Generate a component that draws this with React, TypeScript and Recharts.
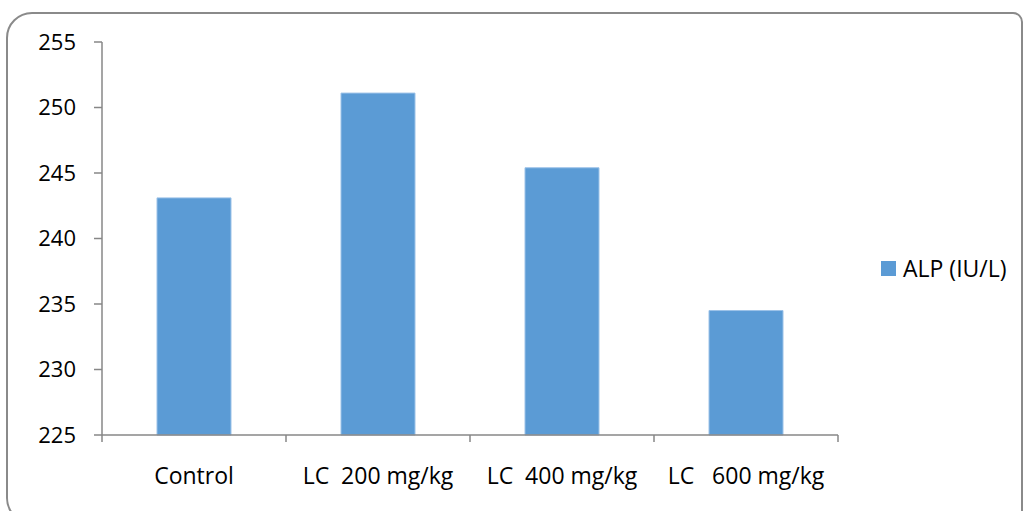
import React from 'react';
import { BarChart, Bar, XAxis, YAxis, Legend } from 'recharts';

const groups = ['Control', 'LC  200 mg/kg', 'LC  400 mg/kg', 'LC   600 mg/kg'];
const alpValues = [243.1, 251.1, 245.4, 234.5];
const yTicks = [225, 230, 235, 240, 245, 250, 255];
const seriesName = 'ALP (IU/L)';

const data = groups.map((g, i) => ({ group: g, alp: alpValues[i] }));

const FONT = '"Open Sans", sans-serif';
const AXIS = '#878787';
const BLUE = '#5b9bd5';

// category ticks sit on band edges, label in the middle
const GroupTick = (props: any) => {
  const { x, y, payload, index } = props;
  const half = payload.offset ?? 92;
  return (
    <g>
      <line x1={x - half} y1={y} x2={x - half} y2={y + 7} stroke={AXIS} strokeWidth={1.5} />
      {index === groups.length - 1 && (
        <line x1={x + half} y1={y} x2={x + half} y2={y + 7} stroke={AXIS} strokeWidth={1.5} />
      )}
      <text
        x={x}
        y={y + 49}
        textAnchor="middle"
        fill="#000"
        fontSize={23}
        fontFamily={FONT}
        style={{ whiteSpace: 'pre' }}
      >
        {payload.value}
      </text>
    </g>
  );
};

const LegendBox = () => (
  <div style={{ display: 'flex', alignItems: 'center', paddingLeft: 43, fontFamily: FONT, fontSize: 23, color: '#000' }}>
    <span style={{ width: 15, height: 15, background: BLUE, display: 'inline-block', marginRight: 7 }} />
    <span>{seriesName}</span>
  </div>
);

export default function App() {
  return (
    <div style={{ position: 'absolute', left: 0, top: 0, width: 1024, height: 511, background: '#fff', overflow: 'hidden' }}>
      <div
        style={{
          position: 'absolute',
          left: 6,
          top: 12,
          width: 1013,
          height: 508,
          border: '2.5px solid #8a8a8a',
          borderRadius: '26px 10px 0 26px',
        }}
      />
      <BarChart
        width={1024}
        height={511}
        data={data}
        margin={{ top: 42, right: 6, left: 0, bottom: 0 }}
        style={{ position: 'absolute', left: 0, top: 0 }}
      >
        <XAxis
          dataKey="group"
          height={76}
          stroke={AXIS}
          strokeWidth={1.5}
          tickLine={false}
          tickSize={0}
          tickMargin={0}
          interval={0}
          tick={<GroupTick />}
        />
        <YAxis
          width={102}
          domain={[225, 255]}
          ticks={yTicks}
          interval={0}
          stroke={AXIS}
          strokeWidth={1.5}
          tickSize={8}
          tickMargin={18}
          tick={{ fill: '#000', fontSize: 22, fontFamily: FONT }}
        />
        <Legend
          layout="vertical"
          align="right"
          verticalAlign="middle"
          width={180}
          wrapperStyle={{ top: 252 }}
          content={<LegendBox />}
        />
        <Bar
          dataKey="alp"
          name={seriesName}
          fill={BLUE}
          stroke="#9cc2e8"
          strokeWidth={1}
          barSize={74}
          isAnimationActive={false}
        />
      </BarChart>
    </div>
  );
}
